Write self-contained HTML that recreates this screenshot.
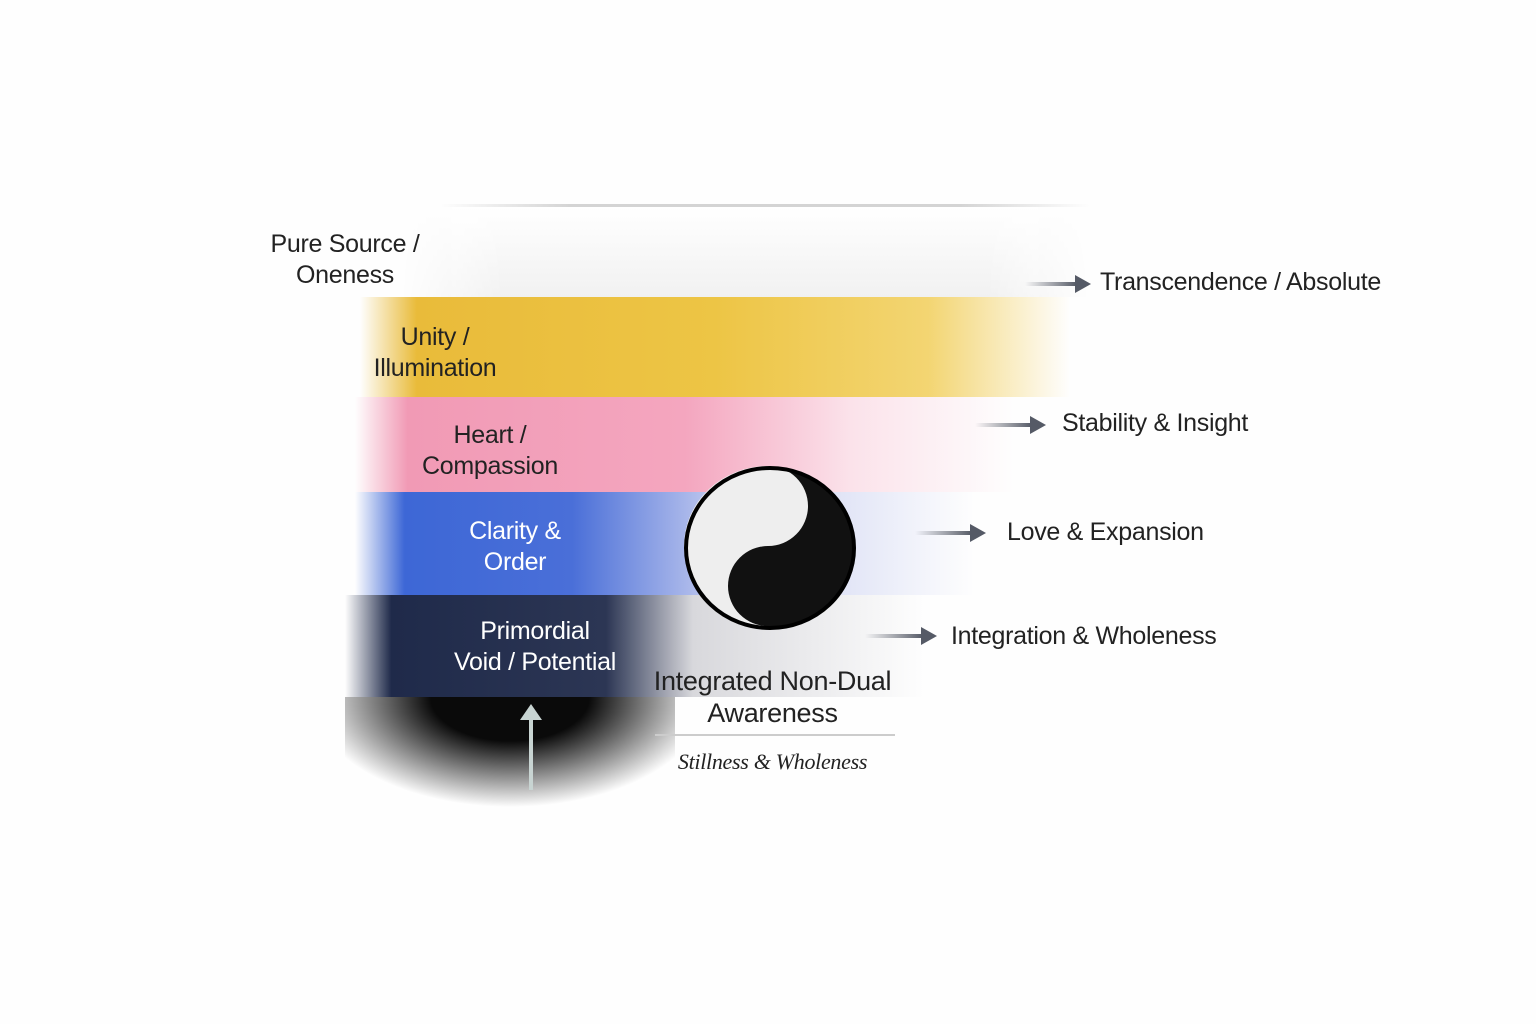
<!DOCTYPE html>
<html><head><meta charset="utf-8"><style>
body{margin:0;width:1536px;height:1024px;background:#fefefe;position:relative;overflow:hidden;font-family:"Liberation Sans",sans-serif;}
.a{position:absolute}
.t{position:absolute;font-size:25px;color:#222;text-align:center;line-height:31px;letter-spacing:-0.3px}
.r{position:absolute;font-size:25px;color:#222;white-space:nowrap;letter-spacing:-0.3px}
.arr{position:absolute;height:4px;background:linear-gradient(90deg,rgba(80,85,95,0),#555a66)}
.arr:after{content:"";position:absolute;right:-14px;top:-7px;border-left:16px solid #555a66;border-top:9px solid transparent;border-bottom:9px solid transparent}
</style></head><body>
<div class="a" style="left:440px;top:204px;width:650px;height:3px;background:linear-gradient(90deg,rgba(200,200,200,0),#d4d4d4 20%,#d4d4d4 80%,rgba(200,200,200,0))"></div>
<div class="a" style="left:400px;top:207px;width:690px;height:90px;background:linear-gradient(180deg,#fff,#f1f1f1);-webkit-mask:linear-gradient(90deg,transparent,#000 15%,#000 85%,transparent)"></div>
<div class="a" style="left:360px;top:297px;width:710px;height:100px;background:linear-gradient(90deg,rgba(236,186,50,0) 0%,#e9bb3a 8%,#edc545 50%,#f3d572 80%,rgba(250,240,200,0) 100%)"></div>
<div class="a" style="left:355px;top:397px;width:660px;height:95px;background:linear-gradient(90deg,rgba(240,140,170,0) 0%,#f19ab5 8%,#f4a6bf 50%,#fbe2ea 75%,rgba(255,255,255,0) 100%)"></div>
<div class="a" style="left:355px;top:492px;width:620px;height:103px;background:linear-gradient(90deg,rgba(60,100,220,0) 0%,#3d67d6 8%,#4a6fd8 35%,#c9cff0 60%,rgba(255,255,255,0) 100%)"></div>
<div class="a" style="left:345px;top:595px;width:580px;height:102px;background:linear-gradient(90deg,rgba(30,40,70,0) 0%,#1f2a4a 8%,#2c3654 45%,#d8d8dc 60%,rgba(240,240,240,0) 100%)"></div>
<div class="a" style="left:345px;top:697px;width:330px;height:110px;background:radial-gradient(ellipse 60% 100% at 50% 0%,#0a0a0a 40%,rgba(10,10,10,0) 100%)"></div>
<div class="a" style="left:529px;top:718px;width:4px;height:72px;background:#c8d4d2"></div>
<div class="a" style="left:520px;top:704px;border-bottom:16px solid #c8d4d2;border-left:11px solid transparent;border-right:11px solid transparent"></div>
<svg class="a" style="left:680px;top:460px" width="176" height="172" viewBox="0 0 176 172">
<ellipse cx="90" cy="88" rx="84" ry="80" fill="#111"/>
<path d="M88 6 A84 80 0 0 0 88 166 A40 40 0 0 1 88 86 A40 40 0 0 0 88 6Z" fill="#eee"/>
<ellipse cx="90" cy="88" rx="84" ry="80" fill="none" stroke="#000" stroke-width="4"/>
</svg>
<div class="t" style="left:230px;top:229px;width:230px;color:#222">Pure Source /<br>Oneness</div>
<div class="t" style="left:330px;top:322px;width:210px">Unity /<br>Illumination</div>
<div class="t" style="left:390px;top:420px;width:200px">Heart /<br>Compassion</div>
<div class="t" style="left:410px;top:516px;width:210px;color:#fff">Clarity &amp;<br>Order</div>
<div class="t" style="left:420px;top:616px;width:230px;color:#fff">Primordial<br>Void / Potential</div>
<div class="t" style="left:630px;top:665px;width:285px;font-size:27px;line-height:32px">Integrated Non-Dual<br>Awareness</div>
<div class="a" style="left:655px;top:734px;width:240px;height:2px;background:#ccc"></div>
<div class="t" style="left:630px;top:746px;width:285px;font-size:22px;font-style:italic;font-family:'Liberation Serif',serif">Stillness &amp; Wholeness</div>
<div class="arr" style="left:1025px;top:282px;width:52px"></div><div class="r" style="left:1100px;top:268px">Transcendence / Absolute</div>
<div class="arr" style="left:975px;top:423px;width:57px"></div><div class="r" style="left:1062px;top:409px">Stability &amp; Insight</div>
<div class="arr" style="left:915px;top:531px;width:57px"></div><div class="r" style="left:1007px;top:518px">Love &amp; Expansion</div>
<div class="arr" style="left:865px;top:634px;width:58px"></div><div class="r" style="left:951px;top:622px">Integration &amp; Wholeness</div>
</body></html>
